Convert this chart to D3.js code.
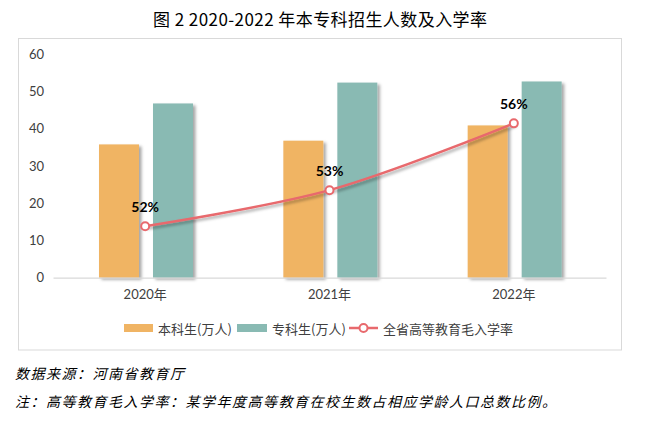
<!DOCTYPE html>
<html>
<head>
<meta charset="utf-8">
<script src="https://cdn.jsdelivr.net/npm/d3@7"></script>
<style>
  html, body { margin: 0; padding: 0; background: #fff; }
  svg { display: block; }
</style>
</head>
<body>
<script>
// ---- data ----
const categories = ["2020年", "2021年", "2022年"];
const seriesNames = ["本科生(万人)", "专科生(万人)", "全省高等教育毛入学率"];
const undergrad = [35.8, 36.8, 40.9];      // 本科生(万人)
const juniorCollege = [46.8, 52.4, 52.7];  // 专科生(万人)
const grossRate = [51.86, 53.44, 56.37];   // 全省高等教育毛入学率 (%)
const yTicks = [0, 10, 20, 30, 40, 50, 60];
const titleText = "图 2 2020-2022 年本专科招生人数及入学率";
const sourceText = "数据来源：河南省教育厅";
const noteText = "注：高等教育毛入学率：某学年度高等教育在校生数占相应学龄人口总数比例。";

// ---- layout ----
const W = 646, H = 428;
const plot = { left: 53, right: 606, top: 54.3, bottom: 277.7 };
const colors = { orange: "#F0B464", teal: "#89BAB3", line: "#E8696D", axis: "#D9D9D9", text: "#404040" };
const latin = "Lato, 'Noto Sans CJK SC', sans-serif";
const cjk = "'Noto Sans CJK SC', sans-serif";

const svg = d3.select("body").append("svg").attr("width", W).attr("height", H);

const defs = svg.append("defs");
const f = defs.append("filter").attr("id", "shadow").attr("x", "-20%").attr("y", "-20%").attr("width", "150%").attr("height", "150%");
f.append("feDropShadow").attr("dx", 2.5).attr("dy", 2).attr("stdDeviation", 1.8)
  .attr("flood-color", "#000").attr("flood-opacity", 0.35);

// chart frame
svg.append("rect").attr("x", 18.5).attr("y", 38.5).attr("width", 603).attr("height", 311.5)
  .attr("fill", "#fff").attr("stroke", colors.axis).attr("stroke-width", 1);

// title
svg.append("text").attr("x", 153).attr("y", 18)
  .attr("dominant-baseline", "central").attr("font-family", cjk).attr("font-size", 17)
  .attr("textLength", 334).attr("lengthAdjust", "spacing")
  .attr("fill", "#000").text(titleText);

// scales
const x0 = d3.scaleBand().domain(categories).range([plot.left, plot.right]).padding(0);
const x1 = d3.scaleBand().domain(["u", "j"]).range([46, 46 + 94]).paddingInner(2 - 94 / 54).paddingOuter(0);
const y = d3.scaleLinear().domain([0, 60]).range([plot.bottom, plot.top]);
const y2 = d3.scaleLinear().domain([49.6, 59.4]).range([plot.bottom, plot.top]);

// y axis labels
const yAxis = d3.axisLeft(y).tickValues(yTicks).tickSize(0).tickPadding(0);
const gy = svg.append("g").attr("transform", `translate(44,0)`).call(yAxis);
gy.select(".domain").remove();
gy.selectAll("text").attr("font-family", latin).attr("font-size", 13).attr("fill", colors.text);

// bars
const barData = categories.map((c, i) => [
  { cat: c, key: "u", v: undergrad[i], color: colors.orange },
  { cat: c, key: "j", v: juniorCollege[i], color: colors.teal }
]).flat();

svg.append("g").attr("filter", "url(#shadow)").selectAll("rect").data(barData).join("rect")
  .attr("x", d => x0(d.cat) + x1(d.key))
  .attr("y", d => y(d.v))
  .attr("width", x1.bandwidth())
  .attr("height", d => y(0) - y(d.v))
  .attr("fill", d => d.color);

// x axis
const xAxis = d3.axisBottom(x0).tickSize(0).tickPadding(12);
const gx = svg.append("g").attr("transform", `translate(0,${plot.bottom})`).call(xAxis);
gx.select(".domain").attr("stroke", colors.axis).attr("stroke-width", 1.2);
gx.selectAll("text").attr("font-family", latin).attr("font-size", 13).attr("fill", colors.text);

// line
const pts = categories.map((c, i) => [x0(c) + x0.bandwidth() / 2, y2(grossRate[i]), grossRate[i]]);
const line = d3.line().x(d => d[0]).y(d => d[1]).curve(d3.curveCatmullRom.alpha(0.5));
svg.append("path").datum(pts).attr("d", line).attr("fill", "none")
  .attr("stroke", colors.line).attr("stroke-width", 2.5).attr("filter", "url(#shadow)");
svg.append("g").selectAll("circle").data(pts).join("circle")
  .attr("cx", d => d[0]).attr("cy", d => d[1]).attr("r", 4)
  .attr("fill", "#fff").attr("stroke", colors.line).attr("stroke-width", 2);
svg.append("g").selectAll("text").data(pts).join("text")
  .attr("x", d => d[0]).attr("y", d => d[1] - 20)
  .attr("text-anchor", "middle").attr("dominant-baseline", "central")
  .attr("font-family", latin).attr("font-size", 14).attr("font-weight", "bold").attr("fill", "#000")
  .text(d => d3.format(".0f")(d[2]) + "%");

// legend
const lg = svg.append("g").attr("font-family", cjk).attr("font-size", 13).attr("fill", colors.text);
const legendY = 328;
lg.append("rect").attr("x", 124).attr("y", legendY - 4).attr("width", 29).attr("height", 8).attr("fill", colors.orange);
lg.append("text").attr("x", 158).attr("y", legendY).attr("dominant-baseline", "central").text(seriesNames[0]);
lg.append("rect").attr("x", 237).attr("y", legendY - 4).attr("width", 30).attr("height", 8).attr("fill", colors.teal);
lg.append("text").attr("x", 272).attr("y", legendY).attr("dominant-baseline", "central").text(seriesNames[1]);
lg.append("line").attr("x1", 349).attr("x2", 378).attr("y1", legendY).attr("y2", legendY)
  .attr("stroke", colors.line).attr("stroke-width", 2.5);
lg.append("circle").attr("cx", 363.5).attr("cy", legendY).attr("r", 4).attr("fill", "#fff")
  .attr("stroke", colors.line).attr("stroke-width", 2);
lg.append("text").attr("x", 383).attr("y", legendY).attr("dominant-baseline", "central").text(seriesNames[2]);

// footnotes
const fn = svg.append("g").attr("font-family", cjk).attr("font-size", 14).attr("font-style", "italic")
  .attr("letter-spacing", 1.5).attr("fill", "#000");
fn.append("text").attr("x", 15).attr("y", 373).attr("dominant-baseline", "central").text(sourceText);
fn.append("text").attr("x", 15).attr("y", 401).attr("dominant-baseline", "central").text(noteText);
</script>
</body>
</html>
